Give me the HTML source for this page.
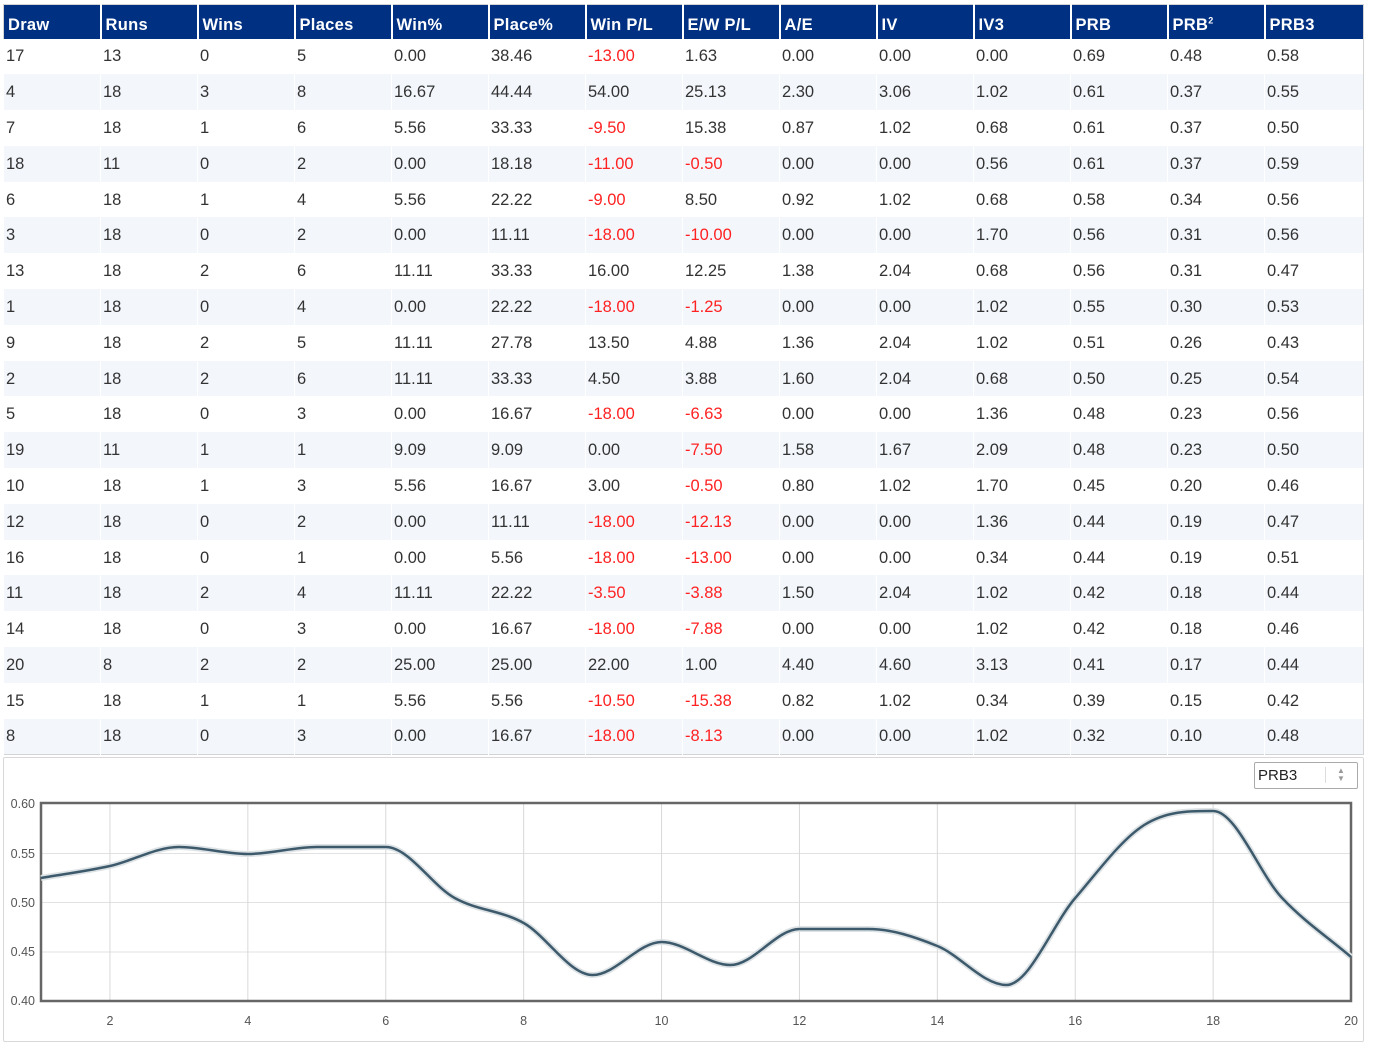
<!DOCTYPE html>
<html><head><meta charset="utf-8"><style>
body{margin:0;background:#fff;font-family:"Liberation Sans",sans-serif;}
table{position:absolute;left:3px;top:4px;width:1361px;border-collapse:collapse;table-layout:fixed;border:1px solid #d4d4d4;}
th{background:#003082;color:#fff;font-weight:bold;font-size:16.5px;letter-spacing:0.3px;text-align:left;height:34px;line-height:18px;padding:6px 0 0 4px;box-sizing:border-box;border-left:2px solid #fff;white-space:nowrap;}
th:first-child{border-left:none}
td{font-size:16.5px;color:#333;height:35.8px;line-height:18px;padding:0 0 0 2px;box-sizing:border-box;border-left:1px solid #fff;}
tr:nth-child(odd) td{background:#f3f7fc}
.r{color:#f22}
sup{font-size:9px;line-height:0}
#panel{position:absolute;left:3px;top:757px;width:1359px;height:283px;border:1px solid #d8d8d8;border-radius:2px;}
#sel{position:absolute;left:1254px;top:762px;width:104px;height:27px;border:1px solid #aaa;border-radius:2px;font-size:15px;color:#222;box-sizing:border-box;padding:4px 0 0 3px}
</style></head><body>
<table>
<colgroup><col style="width:97px"><col style="width:97px"><col style="width:97px"><col style="width:97px"><col style="width:97px"><col style="width:97px"><col style="width:97px"><col style="width:97px"><col style="width:97px"><col style="width:97px"><col style="width:97px"><col style="width:97px"><col style="width:97px"><col></colgroup>
<tr><th>Draw</th><th>Runs</th><th>Wins</th><th>Places</th><th>Win%</th><th>Place%</th><th>Win P/L</th><th>E/W P/L</th><th>A/E</th><th>IV</th><th>IV3</th><th>PRB</th><th>PRB<sup>2</sup></th><th>PRB3</th></tr>
<tr><td>17</td><td>13</td><td>0</td><td>5</td><td>0.00</td><td>38.46</td><td class="r">-13.00</td><td>1.63</td><td>0.00</td><td>0.00</td><td>0.00</td><td>0.69</td><td>0.48</td><td>0.58</td></tr>
<tr><td>4</td><td>18</td><td>3</td><td>8</td><td>16.67</td><td>44.44</td><td>54.00</td><td>25.13</td><td>2.30</td><td>3.06</td><td>1.02</td><td>0.61</td><td>0.37</td><td>0.55</td></tr>
<tr><td>7</td><td>18</td><td>1</td><td>6</td><td>5.56</td><td>33.33</td><td class="r">-9.50</td><td>15.38</td><td>0.87</td><td>1.02</td><td>0.68</td><td>0.61</td><td>0.37</td><td>0.50</td></tr>
<tr><td>18</td><td>11</td><td>0</td><td>2</td><td>0.00</td><td>18.18</td><td class="r">-11.00</td><td class="r">-0.50</td><td>0.00</td><td>0.00</td><td>0.56</td><td>0.61</td><td>0.37</td><td>0.59</td></tr>
<tr><td>6</td><td>18</td><td>1</td><td>4</td><td>5.56</td><td>22.22</td><td class="r">-9.00</td><td>8.50</td><td>0.92</td><td>1.02</td><td>0.68</td><td>0.58</td><td>0.34</td><td>0.56</td></tr>
<tr><td>3</td><td>18</td><td>0</td><td>2</td><td>0.00</td><td>11.11</td><td class="r">-18.00</td><td class="r">-10.00</td><td>0.00</td><td>0.00</td><td>1.70</td><td>0.56</td><td>0.31</td><td>0.56</td></tr>
<tr><td>13</td><td>18</td><td>2</td><td>6</td><td>11.11</td><td>33.33</td><td>16.00</td><td>12.25</td><td>1.38</td><td>2.04</td><td>0.68</td><td>0.56</td><td>0.31</td><td>0.47</td></tr>
<tr><td>1</td><td>18</td><td>0</td><td>4</td><td>0.00</td><td>22.22</td><td class="r">-18.00</td><td class="r">-1.25</td><td>0.00</td><td>0.00</td><td>1.02</td><td>0.55</td><td>0.30</td><td>0.53</td></tr>
<tr><td>9</td><td>18</td><td>2</td><td>5</td><td>11.11</td><td>27.78</td><td>13.50</td><td>4.88</td><td>1.36</td><td>2.04</td><td>1.02</td><td>0.51</td><td>0.26</td><td>0.43</td></tr>
<tr><td>2</td><td>18</td><td>2</td><td>6</td><td>11.11</td><td>33.33</td><td>4.50</td><td>3.88</td><td>1.60</td><td>2.04</td><td>0.68</td><td>0.50</td><td>0.25</td><td>0.54</td></tr>
<tr><td>5</td><td>18</td><td>0</td><td>3</td><td>0.00</td><td>16.67</td><td class="r">-18.00</td><td class="r">-6.63</td><td>0.00</td><td>0.00</td><td>1.36</td><td>0.48</td><td>0.23</td><td>0.56</td></tr>
<tr><td>19</td><td>11</td><td>1</td><td>1</td><td>9.09</td><td>9.09</td><td>0.00</td><td class="r">-7.50</td><td>1.58</td><td>1.67</td><td>2.09</td><td>0.48</td><td>0.23</td><td>0.50</td></tr>
<tr><td>10</td><td>18</td><td>1</td><td>3</td><td>5.56</td><td>16.67</td><td>3.00</td><td class="r">-0.50</td><td>0.80</td><td>1.02</td><td>1.70</td><td>0.45</td><td>0.20</td><td>0.46</td></tr>
<tr><td>12</td><td>18</td><td>0</td><td>2</td><td>0.00</td><td>11.11</td><td class="r">-18.00</td><td class="r">-12.13</td><td>0.00</td><td>0.00</td><td>1.36</td><td>0.44</td><td>0.19</td><td>0.47</td></tr>
<tr><td>16</td><td>18</td><td>0</td><td>1</td><td>0.00</td><td>5.56</td><td class="r">-18.00</td><td class="r">-13.00</td><td>0.00</td><td>0.00</td><td>0.34</td><td>0.44</td><td>0.19</td><td>0.51</td></tr>
<tr><td>11</td><td>18</td><td>2</td><td>4</td><td>11.11</td><td>22.22</td><td class="r">-3.50</td><td class="r">-3.88</td><td>1.50</td><td>2.04</td><td>1.02</td><td>0.42</td><td>0.18</td><td>0.44</td></tr>
<tr><td>14</td><td>18</td><td>0</td><td>3</td><td>0.00</td><td>16.67</td><td class="r">-18.00</td><td class="r">-7.88</td><td>0.00</td><td>0.00</td><td>1.02</td><td>0.42</td><td>0.18</td><td>0.46</td></tr>
<tr><td>20</td><td>8</td><td>2</td><td>2</td><td>25.00</td><td>25.00</td><td>22.00</td><td>1.00</td><td>4.40</td><td>4.60</td><td>3.13</td><td>0.41</td><td>0.17</td><td>0.44</td></tr>
<tr><td>15</td><td>18</td><td>1</td><td>1</td><td>5.56</td><td>5.56</td><td class="r">-10.50</td><td class="r">-15.38</td><td>0.82</td><td>1.02</td><td>0.34</td><td>0.39</td><td>0.15</td><td>0.42</td></tr>
<tr><td>8</td><td>18</td><td>0</td><td>3</td><td>0.00</td><td>16.67</td><td class="r">-18.00</td><td class="r">-8.13</td><td>0.00</td><td>0.00</td><td>1.02</td><td>0.32</td><td>0.10</td><td>0.48</td></tr>
</table>
<div id="panel"></div>
<div id="sel">PRB3<span style="position:absolute;left:70px;top:4px;width:1px;height:16px;background:#ddd"></span><span style="position:absolute;left:82px;top:4px;font-size:8px;color:#999;line-height:8px">▲<br>▼</span></div>
<svg id="ch" width="1375" height="1059" style="position:absolute;left:0;top:0" font-family="Liberation Sans, sans-serif" font-size="12.5" fill="#555">
<g stroke="#e2e2e2" stroke-width="1">
<line x1="41" x2="1351" y1="853.5" y2="853.5"/><line x1="41" x2="1351" y1="902.5" y2="902.5"/><line x1="41" x2="1351" y1="952" y2="952"/>
</g>
<g stroke="#d8d8d8" stroke-width="1" id="vg"></g>
<rect x="41" y="803" width="1310" height="198" fill="none" stroke="#666" stroke-width="2.5"/>
<g text-anchor="end"><text x="35" y="808">0.60</text><text x="35" y="858">0.55</text><text x="35" y="907">0.50</text><text x="35" y="956">0.45</text><text x="35" y="1005">0.40</text></g>
<g text-anchor="middle" id="xl"></g>
<path id="sh" fill="none" stroke="#dde2e5" stroke-width="6"/>
<path id="ln" fill="none" stroke="#3d5a6c" stroke-width="2.5"/>
</svg>
<script>
var ys=[878,866,847,854,847,847,898,923,975,942,965,929,929,946,985,898,825,811,898,957];
var ns="http://www.w3.org/2000/svg",vg=document.getElementById('vg'),xl=document.getElementById('xl');
function X(i){return 41+(i)*68.95;}
for(var k=2;k<=20;k+=2){var x=X(k-1);if(k<20){var l=document.createElementNS(ns,'line');l.setAttribute('x1',x);l.setAttribute('x2',x);l.setAttribute('y1',803);l.setAttribute('y2',1001);vg.appendChild(l);}
var t=document.createElementNS(ns,'text');t.setAttribute('x',x);t.setAttribute('y',1025);t.textContent=k;xl.appendChild(t);}
var n=ys.length,d=[],m=[];
for(var i=0;i<n-1;i++)d.push(ys[i+1]-ys[i]);
for(var i=0;i<n;i++){if(i==0)m.push(d[0]);else if(i==n-1)m.push(d[n-2]);else if(d[i-1]*d[i]<=0)m.push(0);else m.push((d[i-1]+d[i])/2);}
var h=68.95,p="M"+X(0)+","+ys[0];
for(var i=0;i<n-1;i++){p+=" C"+(X(i)+h/3)+","+(ys[i]+m[i]/3)+" "+(X(i+1)-h/3)+","+(ys[i+1]-m[i+1]/3)+" "+X(i+1)+","+ys[i+1];}
document.getElementById('ln').setAttribute('d',p);document.getElementById('sh').setAttribute('d',p);
</script>
</body></html>
